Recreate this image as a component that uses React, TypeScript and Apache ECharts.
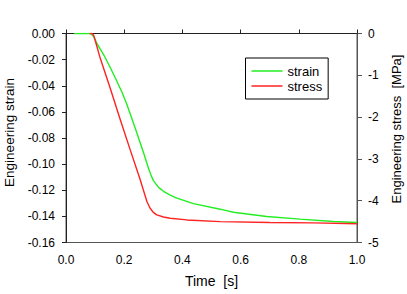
import React, { useEffect, useRef } from "react";
import * as echarts from "echarts";

// Time [s] samples and values
const strainTime = [0.028, 0.085, 0.092, 0.1, 0.106, 0.13, 0.152, 0.172, 0.192, 0.209, 0.238, 0.266, 0.284, 0.293, 0.301, 0.318, 0.335, 0.358, 0.381, 0.438, 0.53, 0.575, 0.69, 0.804, 0.919, 1.0];
const strainValues = [0, 0, -0.0015, -0.0045, -0.0076, -0.0165, -0.026, -0.0352, -0.0448, -0.0542, -0.0725, -0.0909, -0.1035, -0.109, -0.1128, -0.1178, -0.1208, -0.1238, -0.126, -0.1302, -0.1345, -0.1368, -0.1401, -0.1421, -0.1439, -0.1447];

const stressTime = [0.081, 0.09, 0.095, 0.105, 0.118, 0.152, 0.186, 0.221, 0.255, 0.278, 0.289, 0.3, 0.312, 0.335, 0.358, 0.415, 0.53, 0.7, 0.85, 1.0];
const stressValues = [0, 0, -0.04, -0.28, -0.6, -1.31, -2.05, -2.79, -3.5, -4.02, -4.18, -4.28, -4.34, -4.39, -4.42, -4.46, -4.5, -4.52, -4.53, -4.55];

const seriesNames = ["strain", "stress"];
const xTitle = "Time  [s]";
const yLeftTitle = "Engineering strain";
const yRightTitle = "Engineering stress  [MPa]";

const FONT = "Liberation Sans";

export default function App() {
  const ref = useRef<HTMLDivElement>(null);
  useEffect(() => {
    document.body.style.margin = "0";
    if (!ref.current) return;
    const chart = echarts.init(ref.current, undefined, { renderer: "svg" });
    const strainData = strainTime.map((t, i) => [t, strainValues[i]]);
    const stressData = stressTime.map((t, i) => [t, stressValues[i]]);
    chart.setOption({
      animation: false,
      backgroundColor: "#ffffff",
      textStyle: { fontFamily: FONT },
      grid: {
        left: 66,
        right: 50,
        top: 33.5,
        bottom: 51.5,
        containLabel: false,
        outerBoundsMode: "none",
        show: true,
        borderColor: "#555",
        borderWidth: 1,
        backgroundColor: "transparent",
      },
      legend: {
        data: seriesNames,
        orient: "vertical",
        left: 245.5,
        top: 58,
        padding: [6, 6, 6, 6],
        itemGap: 1,
        itemWidth: 31,
        itemHeight: 1.5,
        icon: "rect",
        borderColor: "#000",
        borderWidth: 1,
        textStyle: { fontFamily: FONT, fontSize: 13, color: "#000", lineHeight: 14 },
      },
      xAxis: {
        type: "value",
        min: 0,
        max: 1,
        interval: 0.2,
        name: xTitle,
        nameLocation: "middle",
        nameGap: 31,
        nameTextStyle: { fontFamily: FONT, fontSize: 14, color: "#000" },
        axisLine: { show: true, lineStyle: { color: "#222", width: 1 } },
        axisTick: { show: true, inside: true, length: 4, lineStyle: { color: "#222" } },
        axisLabel: {
          margin: 11,
          fontFamily: FONT,
          fontSize: 12,
          color: "#000",
          formatter: (v: number) => v.toFixed(1),
        },
        splitLine: { show: false },
      },
      yAxis: [
        {
          type: "value",
          position: "left",
          min: -0.16,
          max: 0,
          interval: 0.02,
          name: yLeftTitle,
          nameLocation: "middle",
          nameGap: 48,
          nameTextStyle: { fontFamily: FONT, fontSize: 13.5, color: "#000", padding: [0, 0, 0, 11] },
          axisLine: { show: true, lineStyle: { color: "#222", width: 1 } },
          axisTick: { show: true, inside: false, length: 4, lineStyle: { color: "#222" } },
          axisLabel: {
            margin: 11,
            fontFamily: FONT,
            fontSize: 12,
            color: "#000",
            formatter: (v: number) => (Math.abs(v) < 1e-9 ? "0.00" : v.toFixed(2)),
          },
          splitLine: { show: false },
        },
        {
          type: "value",
          position: "right",
          min: -5,
          max: 0,
          interval: 1,
          name: yRightTitle,
          nameLocation: "middle",
          nameGap: 33,
          nameTextStyle: { fontFamily: FONT, fontSize: 13, color: "#000", padding: [0, 0, 0, 18] },
          axisLine: { show: true, lineStyle: { color: "#555", width: 1 } },
          axisTick: { show: true, inside: false, length: 5, lineStyle: { color: "#555" } },
          axisLabel: {
            margin: 11,
            fontFamily: FONT,
            fontSize: 12,
            color: "#000",
            formatter: (v: number) => (Math.abs(v) < 1e-9 ? "0" : String(Math.round(v))),
          },
          splitLine: { show: false },
        },
      ],
      series: [
        {
          name: seriesNames[0],
          type: "line",
          yAxisIndex: 0,
          data: strainData,
          symbol: "none",
          smooth: false,
          lineStyle: { color: "#22ee22", width: 1.4 },
          itemStyle: { color: "#22ee22" },
        },
        {
          name: seriesNames[1],
          type: "line",
          yAxisIndex: 1,
          data: stressData,
          symbol: "none",
          smooth: false,
          lineStyle: { color: "#ff2222", width: 1.4 },
          itemStyle: { color: "#ff2222" },
        },
      ],
    });
    return () => chart.dispose();
  }, []);
  return <div ref={ref} style={{ width: 407, height: 294 }} />;
}
